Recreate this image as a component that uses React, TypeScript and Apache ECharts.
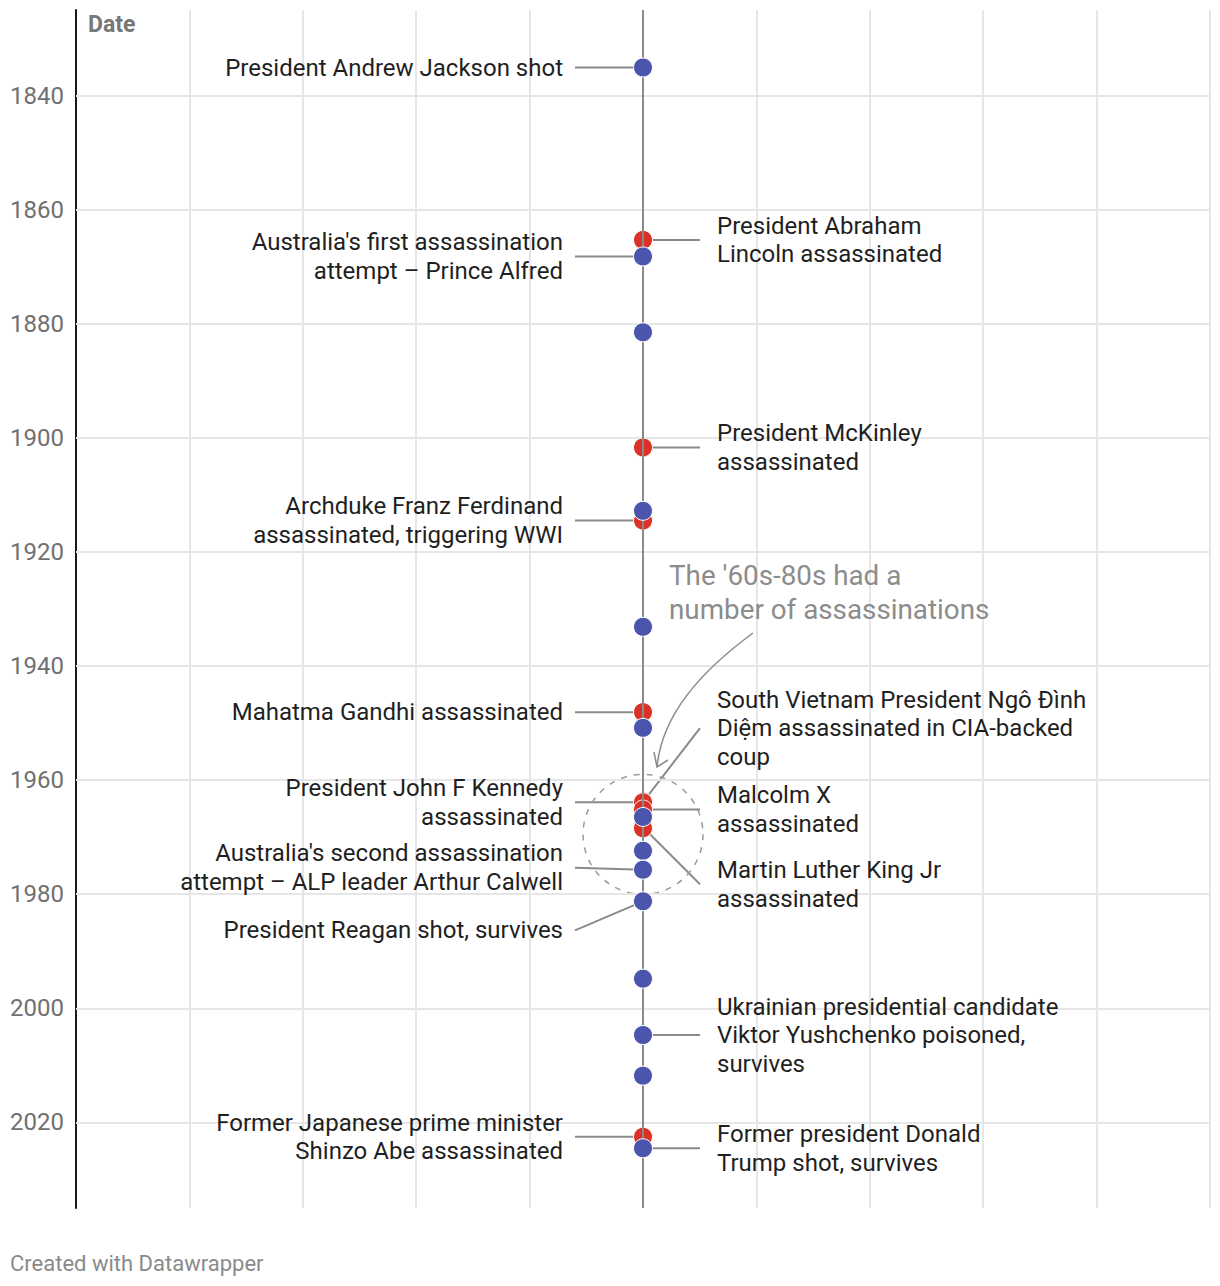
import React, { useEffect, useRef } from "react";
import * as echarts from "echarts";

const yearTicks = [1840, 1860, 1880, 1900, 1920, 1940, 1960, 1980, 2000, 2020];
const killedYears = [1865.3, 1901.68, 1914.49, 1948.08, 1963.84, 1963.89, 1965.14, 1968.26, 1968.43, 2022.52];
const survivedYears = [1835.08, 1868.2, 1881.5, 1912.79, 1933.12, 1950.83, 1966.45, 1972.37, 1975.7, 1981.24, 1994.8, 2004.68, 2011.8, 2024.53];

const noteYears = [1835.08, 1865.3, 1868.2, 1901.68, 1914.49, 1948.08, 1963.84, 1963.89, 1965.14, 1975.7, 1968.26, 1981.24, 2004.68, 2022.52, 2024.53];
const noteTexts = [
  "President Andrew Jackson shot",
  "President Abraham\nLincoln assassinated",
  "Australia's first assassination\nattempt – Prince Alfred",
  "President McKinley\nassassinated",
  "Archduke Franz Ferdinand\nassassinated, triggering WWI",
  "Mahatma Gandhi assassinated",
  "South Vietnam President Ngô Đình\nDiệm assassinated in CIA-backed\ncoup",
  "President John F Kennedy\nassassinated",
  "Malcolm X\nassassinated",
  "Australia's second assassination\nattempt – ALP leader Arthur Calwell",
  "Martin Luther King Jr\nassassinated",
  "President Reagan shot, survives",
  "Ukrainian presidential candidate\nViktor Yushchenko poisoned,\nsurvives",
  "Former Japanese prime minister\nShinzo Abe assassinated",
  "Former president Donald\nTrump shot, survives",
];
const noteSides = ["L", "R", "L", "R", "L", "L", "R", "L", "R", "L", "R", "L", "R", "L", "R"];
const noteOffsets = [0, 0, 0, 0, 0, 0, -74, 0, 0, -2, 57, 29, 0, 0, 0];

const calloutText = "The '60s-80s had a\nnumber of assassinations";

const RED = "#dc3127";
const BLUE = "#4b55ae";
const FONT = "Roboto, 'Noto Sans', sans-serif";

export default function App() {
  const ref = useRef<HTMLDivElement>(null);
  useEffect(() => {
    if (!ref.current) return;
    const chart = echarts.init(ref.current, undefined, { renderer: "svg" });
    chart.setOption({
      animation: false,
      textStyle: { fontFamily: FONT },
      grid: { left: 76, right: 10, top: 10, bottom: 78, containLabel: false },
      xAxis: {
        type: "value",
        min: 0,
        max: 10,
        interval: 1,
        axisLine: { show: false },
        axisTick: { show: false },
        axisLabel: { show: false },
        splitLine: { show: true, lineStyle: { color: "#e6e6e6", width: 2 } },
      },
      yAxis: {
        type: "value",
        inverse: true,
        min: 1825,
        max: 2035,
        axisLine: { show: true, lineStyle: { color: "#1a1a1a", width: 2 } },
        axisTick: { show: false },
        axisLabel: { show: false },
        splitLine: { show: false },
      },
      series: [
        {
          type: "line",
          data: [],
          z: 1,
          markLine: {
            silent: true,
            symbol: "none",
            animation: false,
            lineStyle: { color: "#e6e6e6", width: 2, type: "solid" },
            label: {
              show: true,
              position: "start",
              distance: 12,
              color: "#707070",
              fontSize: 24,
              fontFamily: FONT,
              formatter: (p: any) => String(p.value),
            },
            data: yearTicks.map((y) => ({ yAxis: y })),
          },
        },
        {
          type: "line",
          data: [],
          z: 2,
          markLine: {
            silent: true,
            symbol: "none",
            animation: false,
            lineStyle: { color: "#8a8a8a", width: 2, type: "solid" },
            label: { show: false },
            data: [{ xAxis: 5 }],
          },
        },
        {
          type: "scatter",
          z: 4,
          symbolSize: 19,
          itemStyle: { color: RED, borderColor: "#ffffff", borderWidth: 1, opacity: 1 },
          data: killedYears.map((y) => [5, y]),
        },
        {
          type: "scatter",
          z: 5,
          symbolSize: 19,
          itemStyle: { color: BLUE, borderColor: "#ffffff", borderWidth: 1, opacity: 1 },
          data: survivedYears.map((y) => [5, y]),
        },
      ],
    });

    const graphics: any[] = [];
    noteYears.forEach((yr, i) => {
      const [px, py] = chart.convertToPixel({ xAxisIndex: 0, yAxisIndex: 0 }, [5, yr]) as number[];
      const left = noteSides[i] === "L";
      const ty = py + noteOffsets[i];
      const sx = left ? px - 68 : px + 57;
      graphics.push({
        type: "line",
        z: 3,
        silent: true,
        shape: { x1: sx, y1: ty, x2: px, y2: py },
        style: { stroke: "#8a8a8a", lineWidth: 2 },
      });
      graphics.push({
        type: "text",
        z: 10,
        silent: true,
        x: left ? px - 80 : px + 74,
        y: ty,
        style: {
          text: noteTexts[i],
          align: left ? "right" : "left",
          verticalAlign: "middle",
          font: `24px ${FONT}`,
          lineHeight: 28.5,
          fill: "#1f1f1f",
        },
      });
    });

    const [cx, cy] = chart.convertToPixel({ xAxisIndex: 0, yAxisIndex: 0 }, [5, 1969.5]) as number[];
    graphics.push({
      type: "circle",
      z: 3,
      silent: true,
      shape: { cx, cy, r: 60 },
      style: { fill: "none", stroke: "#9a9a9a", lineWidth: 1.5, lineDash: [6, 7] },
    });
    graphics.push({
      type: "text",
      z: 10,
      silent: true,
      x: cx + 26,
      y: 592,
      style: {
        text: calloutText,
        align: "left",
        verticalAlign: "middle",
        font: `27.8px ${FONT}`,
        lineHeight: 34,
        fill: "#8c8c8c",
      },
    });
    graphics.push({
      type: "bezierCurve",
      z: 10,
      silent: true,
      shape: { x1: 753, y1: 633, cpx1: 700, cpy1: 672, cpx2: 662, cpy2: 715, x2: 657, y2: 767 },
      style: { stroke: "#8a8a8a", lineWidth: 1.5, fill: "none" },
    });
    graphics.push({
      type: "polyline",
      z: 10,
      silent: true,
      shape: { points: [[654, 752], [657, 767], [668, 760]] },
      style: { stroke: "#8a8a8a", lineWidth: 1.5, fill: "none" },
    });
    graphics.push({
      type: "text",
      z: 10,
      silent: true,
      x: 88,
      y: 24,
      style: { text: "Date", align: "left", verticalAlign: "middle", font: `bold 23px ${FONT}`, fill: "#777777" },
    });
    graphics.push({
      type: "text",
      z: 10,
      silent: true,
      x: 10,
      y: 1263,
      style: { text: "Created with Datawrapper", align: "left", verticalAlign: "middle", font: `22px ${FONT}`, fill: "#8a8a8a" },
    });
    chart.setOption({ graphic: graphics });

    return () => chart.dispose();
  }, []);
  return (
    <div
      ref={ref}
      style={{ position: "absolute", left: 0, top: 0, width: 1220, height: 1286, background: "#ffffff" }}
    />
  );
}
